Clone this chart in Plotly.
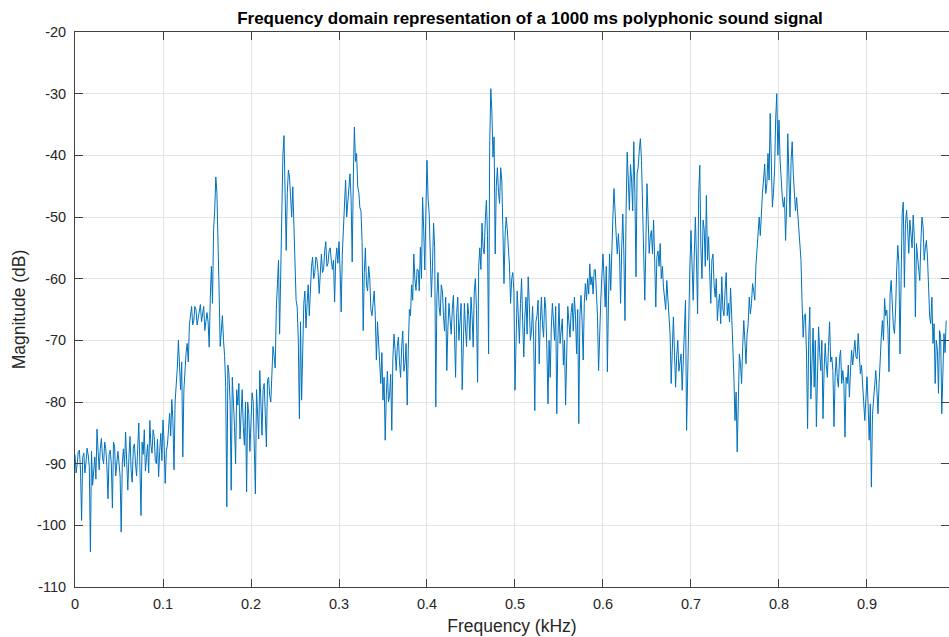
import numpy as np
import plotly.graph_objects as go

# Frequency step of the spectrum samples (kHz)
FREQ_STEP_KHZ = 0.0025

# Magnitude (dB) at 0, 0.0025, 0.005 ... kHz (20 samples per 0.05 kHz)
mag_db = [
    # 0.00 - 0.0475
    -88.5, -90.0, -87.8, -99.2, -88.3, -89.8, -88.6, -104.3, -93.5, -88.9,
    -84.4, -91.0, -85.9, -90.0, -87.6, -95.7, -87.8, -97.2, -87.2, -90.5,
    # 0.05 - 0.0975
    -89.9, -101.1, -87.6, -84.9, -94.3, -85.6, -93.0, -86.8, -92.0, -83.4,
    -98.4, -88.5, -91.2, -86.9, -83.0, -88.3, -85.6, -90.0, -92.1, -85.1,
    # 0.10 - 0.1475
    -82.9, -93.2, -87.0, -81.8, -79.6, -91.0, -77.5, -70.0, -78.0, -88.9,
    -74.5, -70.5, -67.5, -64.5, -66.8, -65.0, -66.5, -64.2, -66.0, -68.4,
    # 0.15 - 0.1975
    -65.5, -71.1, -58.0, -52.0, -43.5, -52.5, -71.0, -66.0, -72.5, -97.0,
    -75.5, -94.3, -79.0, -90.0, -80.5, -86.0, -78.0, -87.0, -94.6, -82.0,
    # 0.20 - 0.2475
    -84.0, -80.0, -94.9, -81.0, -74.9, -85.4, -77.0, -87.3, -76.0, -80.0,
    -71.0, -74.5, -60.0, -69.0, -51.0, -36.8, -55.4, -42.4, -47.3, -45.1,
    # 0.25 - 0.2975
    -56.0, -64.6, -82.7, -79.7, -64.0, -68.0, -61.0, -60.0, -56.5, -59.0,
    -57.0, -62.4, -56.0, -58.5, -54.0, -57.5, -55.0, -58.5, -63.8, -55.0,
    # 0.30 - 0.3475
    -54.0, -65.4, -51.0, -44.0, -48.0, -43.0, -57.3, -35.4, -39.7, -46.0,
    -49.0, -68.4, -55.0, -62.0, -60.0, -66.0, -62.0, -73.2, -70.5, -77.0,
    # 0.35 - 0.3975
    -79.7, -86.2, -75.0, -78.9, -84.6, -69.0, -74.9, -69.5, -76.0, -68.5,
    -73.8, -80.5, -65.0, -61.0, -56.0, -61.9, -58.6, -54.9, -46.8, -58.6,
    # 0.40 - 0.4475
    -40.8, -49.5, -63.0, -51.0, -80.8, -59.0, -66.0, -62.0, -68.5, -74.9,
    -64.0, -69.0, -62.7, -76.0, -63.0, -66.5, -78.0, -64.0, -71.0, -66.0,
    # 0.45 - 0.4975
    -63.0, -71.1, -60.0, -76.8, -55.0, -51.0, -56.0, -47.3, -72.2, -29.2,
    -40.3, -56.0, -42.0, -47.8, -44.0, -60.8, -50.0, -54.3, -64.0, -59.0,
    # 0.50 - 0.5475
    -78.1, -62.0, -70.5, -60.0, -72.7, -63.0, -59.7, -70.0, -64.5, -81.4,
    -66.0, -73.8, -63.0, -69.5, -65.0, -80.3, -76.0, -64.0, -70.0, -81.9,
    # 0.55 - 0.5975
    -64.0, -67.8, -74.0, -80.5, -64.5, -69.5, -64.0, -63.0, -72.2, -83.5,
    -62.7, -73.2, -60.8, -60.0, -57.6, -59.7, -58.6, -62.4, -74.9, -63.5,
    # 0.60 - 0.6475
    -56.0, -64.6, -75.1, -56.0, -53.8, -45.4, -53.0, -52.7, -64.0, -49.5,
    -66.8, -39.5, -48.9, -44.0, -37.8, -59.7, -41.9, -37.3, -50.0, -63.5,
    # 0.65 - 0.6975
    -44.6, -55.9, -52.2, -50.5, -64.6, -55.5, -54.3, -58.0, -63.5, -60.3,
    -67.8, -77.0, -66.2, -77.6, -70.0, -73.2, -78.1, -70.0, -84.6, -62.4,
    # 0.70 - 0.7475
    -52.2, -63.5, -50.0, -65.7, -41.6, -60.0, -52.0, -46.5, -53.2, -64.0,
    -56.0, -63.0, -66.8, -62.5, -59.7, -66.0, -59.0, -64.0, -61.5, -70.0,
    # 0.75 - 0.7975
    -83.0, -88.1, -72.2, -77.0, -66.8, -73.8, -67.3, -65.7, -60.8, -63.5,
    -55.4, -50.0, -48.9, -44.0, -46.2, -39.7, -33.2, -48.4, -42.4, -30.0,
    # 0.80 - 0.8475
    -34.3, -45.1, -48.4, -53.8, -36.5, -50.0, -37.8, -45.7, -46.8, -51.1,
    -57.0, -69.5, -65.7, -84.3, -64.6, -74.9, -77.6, -84.0, -67.8, -74.9,
    # 0.85 - 0.8975
    -82.7, -70.5, -76.0, -67.0, -72.7, -84.0, -72.7, -77.6, -71.6, -74.9,
    -85.7, -77.0, -79.2, -71.6, -71.1, -72.7, -68.9, -75.4, -78.1, -83.0,
    # 0.90 - 0.9475
    -75.9, -86.2, -93.8, -79.7, -74.9, -81.9, -71.6, -66.8, -63.2, -65.1,
    -75.1, -60.3, -67.8, -65.1, -54.6, -72.2, -49.5, -61.4, -48.9, -55.9,
    # 0.95 - 0.99
    -52.7, -49.7, -66.2, -56.5, -60.3, -50.0, -57.0, -53.8, -60.3, -67.3,
    -70.5, -77.0, -71.6, -68.4, -81.9, -68.9, -66.8,
]

# Magnitude (dB) read from the reference half-way between the samples above
# (0.00125, 0.00375 ... kHz)
mag_db_mid = [
    # 0.00125 - 0.04875
    -91.5, -88.0, -91.0, -89.0, -91.5, -87.5, -90.5, -88.0, -90.5, -92.5,
    -88.0, -87.5, -89.0, -86.5, -90.5, -88.5, -90.0, -86.5, -92.0, -88.0,
    # 0.05125 - 0.09875
    -92.0, -90.0, -90.5, -88.5, -89.0, -91.0, -87.5, -90.0, -87.5, -90.5,
    -86.5, -84.5, -89.0, -91.5, -87.0, -84.5, -89.5, -86.0, -88.0, -89.5,
    # 0.10125 - 0.14875
    -86.5, -88.0, -84.5, -85.5, -83.0, -80.0, -74.5, -75.0, -73.5, -78.0,
    -72.0, -73.5, -66.0, -67.5, -64.5, -67.5, -65.0, -67.0, -64.5, -66.5,
    # 0.15125 - 0.19875
    -67.0, -63.0, -64.0, -49.0, -46.0, -62.0, -68.0, -70.0, -77.5, -74.0,
    -80.0, -76.0, -84.0, -78.0, -77.0, -82.0, -84.0, -80.0, -80.0, -88.0,
    # 0.20125 - 0.24875
    -78.5, -86.0, -78.0, -86.0, -79.0, -78.0, -82.0, -76.5, -79.0, -75.5,
    -72.5, -65.0, -57.0, -59.0, -40.0, -47.0, -46.0, -43.5, -50.0, -52.0,
    # 0.25125 - 0.29875
    -63.5, -70.0, -67.0, -69.0, -62.0, -64.0, -66.0, -58.0, -60.0, -56.5,
    -59.0, -58.5, -59.0, -55.5, -58.0, -55.5, -57.0, -57.0, -57.0, -57.5,
    # 0.30125 - 0.34875
    -58.5, -56.0, -47.5, -50.0, -46.0, -47.0, -44.0, -41.0, -45.0, -48.5,
    -54.0, -59.0, -61.0, -58.0, -65.0, -64.0, -66.0, -67.0, -74.0, -72.0,
    # 0.35125 - 0.39875
    -76.0, -79.0, -80.0, -75.5, -73.0, -71.5, -71.0, -73.5, -71.0, -75.0,
    -70.5, -71.5, -66.0, -63.5, -60.0, -58.5, -62.0, -60.0, -52.0, -49.0,
    # 0.40125 - 0.44875
    -47.0, -56.0, -58.0, -55.0, -63.0, -64.5, -61.0, -66.0, -63.0, -68.0,
    -66.5, -65.0, -69.0, -65.5, -70.0, -64.0, -69.0, -68.0, -64.0, -70.0,
    # 0.45125 - 0.49875
    -66.0, -62.0, -65.0, -58.0, -58.5, -55.0, -50.5, -53.0, -38.6, -33.0,
    -37.0, -45.0, -46.0, -42.0, -52.0, -53.0, -52.0, -58.0, -60.0, -62.0,
    # 0.50125 - 0.54875
    -68.0, -66.0, -64.0, -67.0, -66.0, -69.0, -64.0, -68.5, -70.0, -67.0,
    -63.5, -67.0, -67.5, -63.0, -71.5, -70.0, -68.0, -67.0, -64.5, -70.0,
    # 0.55125 - 0.59875
    -70.5, -66.5, -70.0, -69.0, -67.0, -65.5, -68.5, -66.0, -65.0, -66.0,
    -67.0, -64.0, -63.5, -62.5, -61.0, -62.5, -58.5, -66.0, -67.0, -59.5,
    # 0.60125 - 0.64875
    -60.0, -58.0, -63.5, -61.9, -50.0, -50.0, -56.0, -56.0, -55.0, -56.0,
    -48.9, -44.0, -41.5, -49.0, -46.0, -43.0, -39.2, -40.8, -54.3, -54.3,
    # 0.65125 - 0.69875
    -50.0, -53.2, -56.0, -57.0, -56.5, -58.0, -60.0, -61.4, -65.0, -63.5,
    -69.0, -68.9, -72.0, -72.5, -75.0, -72.2, -74.0, -63.5, -75.0, -58.0,
    # 0.70125 - 0.74875
    -58.5, -56.0, -57.0, -46.2, -55.0, -50.5, -58.0, -57.0, -59.0, -57.0,
    -61.0, -60.0, -64.0, -67.3, -65.0, -62.0, -66.0, -67.0, -66.0, -75.9,
    # 0.75125 - 0.79875
    -78.4, -79.0, -73.8, -71.0, -70.0, -69.0, -63.0, -64.0, -62.0, -58.0,
    -52.0, -53.0, -46.0, -41.4, -44.6, -44.0, -43.0, -46.0, -34.0, -40.0,
    # 0.80125 - 0.84875
    -40.8, -46.8, -46.8, -47.8, -42.0, -40.8, -43.0, -49.0, -49.5, -55.0,
    -64.0, -66.0, -72.2, -70.0, -79.5, -68.0, -70.0, -74.0, -72.0, -70.0,
    # 0.85125 - 0.89875
    -75.0, -74.0, -71.0, -73.5, -74.9, -76.0, -76.0, -73.0, -77.0, -77.0,
    -76.0, -74.0, -75.0, -74.0, -70.0, -73.0, -72.5, -74.0, -80.0, -78.0,
    # 0.90125 - 0.94875
    -80.3, -80.3, -82.0, -76.0, -78.0, -77.0, -69.5, -70.0, -66.0, -68.0,
    -62.4, -64.0, -68.9, -58.6, -57.6, -60.3, -47.6, -51.1, -52.0, -50.5,
    # 0.95125 - 0.98875
    -55.0, -53.2, -54.3, -59.0, -54.0, -51.6, -55.0, -56.5, -66.2, -63.0,
    -67.3, -70.0, -78.6, -69.5, -74.0, -72.0,
]

# Frequency axis (kHz): main samples and the half-step samples, merged in order
freq_main = np.arange(len(mag_db)) * FREQ_STEP_KHZ
freq_mid = freq_main[:-1] + FREQ_STEP_KHZ / 2
freq_khz = np.empty(len(mag_db) + len(mag_db_mid))
magnitude = np.empty_like(freq_khz)
freq_khz[0::2] = freq_main
freq_khz[1::2] = freq_mid
magnitude[0::2] = mag_db
magnitude[1::2] = mag_db_mid

x_ticks = [0, 0.1, 0.2, 0.3, 0.4, 0.5, 0.6, 0.7, 0.8, 0.9]
x_tick_labels = ["0", "0.1", "0.2", "0.3", "0.4", "0.5", "0.6", "0.7", "0.8", "0.9"]
y_ticks = [-110, -100, -90, -80, -70, -60, -50, -40, -30, -20]
y_tick_labels = [str(v) for v in y_ticks]

title_text = "Frequency domain representation of a 1000 ms polyphonic sound signal"
x_label = "Frequency (kHz)"
y_label = "Magnitude (dB)"

FONT = "Liberation Sans, Arial, Helvetica, sans-serif"
AXIS_COLOR = "#404040"
TEXT_COLOR = "#262626"
GRID_COLOR = "#e3e3e3"

fig = go.Figure()
fig.add_trace(go.Scatter(
    x=freq_khz, y=magnitude, mode="lines",
    line=dict(color="#0072BD", width=1),
    showlegend=False, hoverinfo="skip",
))

axis_common = dict(
    showline=True, linecolor=AXIS_COLOR, linewidth=1, mirror="ticks",
    ticks="inside", ticklen=8, tickcolor=AXIS_COLOR, tickwidth=1,
    showgrid=True, gridcolor=GRID_COLOR, gridwidth=1, zeroline=False,
    tickfont=dict(family=FONT, size=14.5, color=TEXT_COLOR),
)

fig.update_xaxes(
    range=[0, 0.9932], tickvals=x_ticks, ticktext=x_tick_labels,
    ticklabelstandoff=4,
    title=dict(text=x_label, font=dict(family=FONT, size=17.5, color=TEXT_COLOR), standoff=8),
    **axis_common,
)
fig.update_yaxes(
    range=[-110, -20], tickvals=y_ticks, ticktext=y_tick_labels,
    ticklabelstandoff=5,
    title=dict(text=y_label, font=dict(family=FONT, size=17.5, color=TEXT_COLOR), standoff=6),
    **axis_common,
)

fig.update_layout(
    width=949, height=637,
    margin=dict(l=75, r=0, t=32, b=50),
    paper_bgcolor="white", plot_bgcolor="white",
    title=dict(
        text="<b>" + title_text + "</b>",
        font=dict(family=FONT, size=17, color="#000000"),
        x=530 / 949, xanchor="center", xref="container",
        y=1 - 18 / 637, yanchor="middle", yref="container",
    ),
)

fig.write_html("out.html")
